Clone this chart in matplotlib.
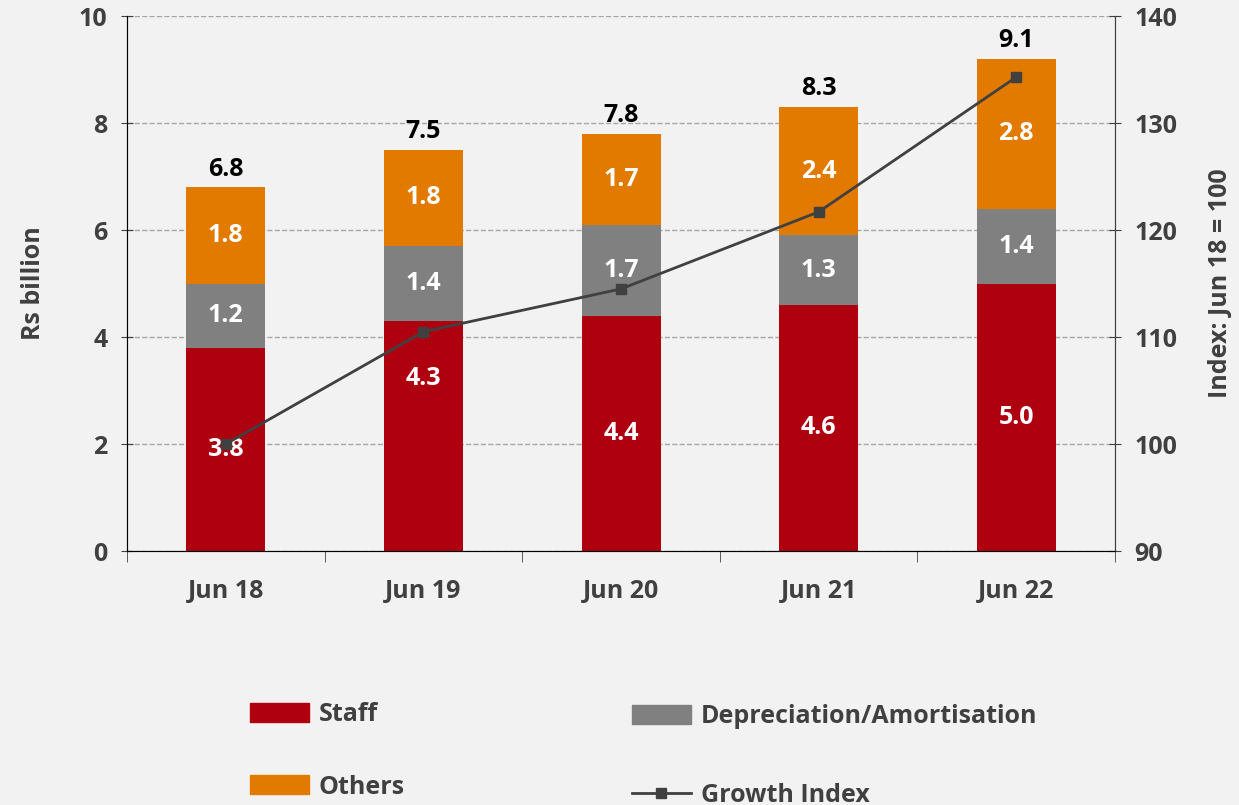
import numpy as np
import matplotlib.pyplot as plt
from matplotlib.patches import Patch
from matplotlib.lines import Line2D

plt.rcParams['font.family'] = ['Open Sans', 'DejaVu Sans']
plt.rcParams['font.weight'] = 'bold'

# data
years = ['Jun 18', 'Jun 19', 'Jun 20', 'Jun 21', 'Jun 22']
staff = [3.8, 4.3, 4.4, 4.6, 5.0]
depreciation = [1.2, 1.4, 1.7, 1.3, 1.4]
others = [1.8, 1.8, 1.7, 2.4, 2.8]
totals = [6.8, 7.5, 7.8, 8.3, 9.1]
growth_index = [100.0, 110.5, 114.5, 121.7, 134.3]

c_staff = '#AF0010'
c_dep = '#808080'
c_oth = '#E27A00'
c_line = '#404040'
c_text = '#404040'
bg = '#F2F2F2'
fs = 18

fig = plt.figure(figsize=(12.39, 8.05), dpi=100, facecolor=bg)
ax = fig.add_axes([0.1025, 0.3155, 0.7975, 0.6645], facecolor=bg)
x = np.arange(len(years))
w = 0.4

b1 = ax.bar(x, staff, w, color=c_staff, zorder=2)
bot2 = np.array(staff)
b2 = ax.bar(x, depreciation, w, bottom=bot2, color=c_dep, zorder=2)
bot3 = bot2 + np.array(depreciation)
b3 = ax.bar(x, others, w, bottom=bot3, color=c_oth, zorder=2)

# segment labels
for i in range(len(x)):
    ys = staff[i] / 2
    if i == 1:
        ys = staff[i] * 0.75  # moved up off the line
    ax.text(x[i], ys, f'{staff[i]:.1f}', ha='center', va='center',
            color='white', fontsize=fs, fontweight='bold', zorder=4)
    ax.text(x[i], bot2[i] + depreciation[i] / 2, f'{depreciation[i]:.1f}',
            ha='center', va='center', color='white', fontsize=fs,
            fontweight='bold', zorder=4)
    ax.text(x[i], bot3[i] + others[i] / 2, f'{others[i]:.1f}',
            ha='center', va='center', color='white', fontsize=fs,
            fontweight='bold', zorder=4)
    ax.annotate(f'{totals[i]:.1f}', (x[i], bot3[i] + others[i]),
                xytext=(0, 4), textcoords='offset points', ha='center',
                va='bottom', color='black', fontsize=fs, fontweight='bold')

ax.set_xlim(-0.5, len(x) - 0.5)
ax.set_ylim(0, 10)
ax.set_yticks(np.arange(0, 11, 2))
ax.set_xticks(x)
ax.set_xticklabels(years)
ax.set_xticks(np.arange(-0.5, len(x), 1), minor=True)
ax.tick_params(axis='x', which='major', length=0, pad=20, labelsize=fs,
               labelcolor=c_text)
ax.tick_params(axis='x', which='minor', length=8, direction='out',
               color='#404040')
ax.tick_params(axis='y', length=8, direction='inout', pad=10, labelsize=fs,
               labelcolor=c_text, color='#404040')
ax.grid(axis='y', linestyle='--', color='#A6A6A6', linewidth=1, zorder=0)
ax.spines['top'].set_visible(False)
for s in ['left', 'bottom', 'right']:
    ax.spines[s].set_color('#404040')
ax.set_ylabel('Rs billion', fontsize=fs, color=c_text, labelpad=24,
              fontweight='bold')

ax2 = ax.twinx()
ax2.plot(x, growth_index, color=c_line, linewidth=2, marker='s',
         markersize=7, zorder=5)
ax2.set_ylim(90, 140)
ax2.set_yticks(np.arange(90, 141, 10))
ax2.tick_params(axis='y', length=8, direction='inout', pad=10, labelsize=fs,
                labelcolor=c_text, color='#404040')
ax2.spines['top'].set_visible(False)
ax2.spines['right'].set_color('#404040')
ax2.set_ylabel('Index: Jun 18 = 100', fontsize=fs, color=c_text,
               labelpad=22, fontweight='bold')

# legends (two columns placed separately)
leg_kw = dict(frameon=False, fontsize=fs, labelcolor=c_text,
              handlelength=2.35, handleheight=0.8, labelspacing=1.9,
              handletextpad=0.4, borderpad=0, borderaxespad=0,
              loc='upper left')
leg1 = fig.legend([Patch(color=c_staff), Patch(color=c_oth)],
                  ['Staff', 'Others'],
                  bbox_to_anchor=(250 / 1239, 1 - 702 / 805), **leg_kw)
leg_kw['labelspacing'] = 2.15
leg2 = fig.legend([Patch(color=c_dep),
                   Line2D([], [], color=c_line, lw=2, marker='s',
                          markersize=7)],
                  ['Depreciation/Amortisation', 'Growth Index'],
                  bbox_to_anchor=(632 / 1239, 1 - 704 / 805), **leg_kw)

fig.savefig('out.png', dpi=100, facecolor=bg)
